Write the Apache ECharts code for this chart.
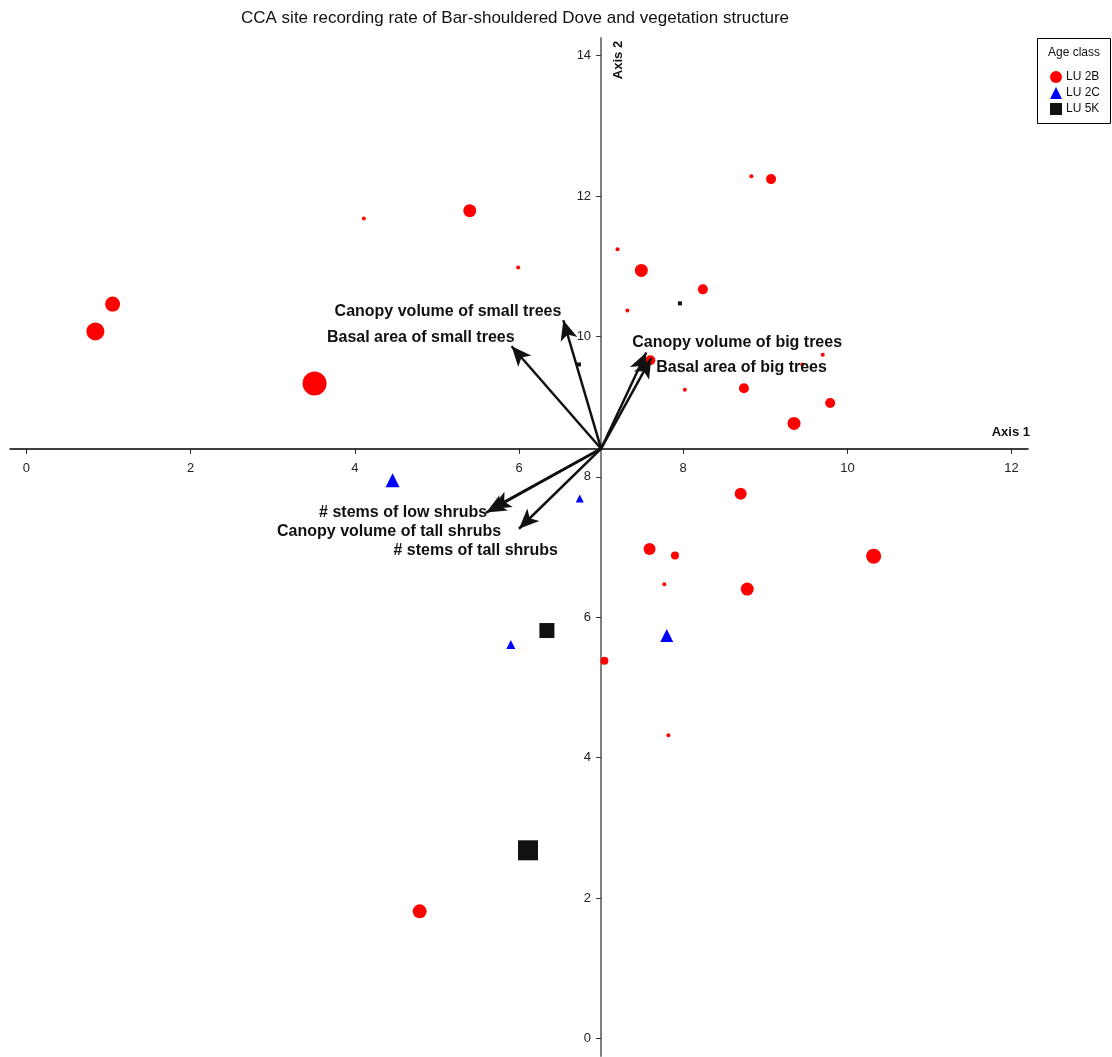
<!DOCTYPE html>
<html>
<head>
<meta charset="utf-8">
<title>CCA site recording rate of Bar-shouldered Dove and vegetation structure</title>
<script src="https://cdn.jsdelivr.net/npm/echarts@6/dist/echarts.min.js"></script>
<style>
  html, body { margin: 0; padding: 0; background: #ffffff; }
  #chart { width: 1112px; height: 1057px; }
</style>
</head>
<body>
<div id="chart"></div>
<script>
// Axis ticks
const xTicks = [0, 2, 4, 6, 8, 10, 12];
const yTicks = [0, 2, 4, 6, 8, 10, 12, 14];

// Site scores (Axis 1, Axis 2) and recording rate per site, by age class
const lu2bX = [0.84, 1.05, 3.51, 4.11, 5.40, 5.99, 7.20, 7.32, 7.49, 8.83, 9.07, 8.24, 7.60, 8.02,
               8.74, 9.45, 9.70, 9.79, 9.35, 8.70, 7.59, 7.90, 10.32, 7.77, 8.78, 7.04, 7.82, 4.79];
const lu2bY = [10.07, 10.46, 9.33, 11.68, 11.79, 10.98, 11.24, 10.37, 10.94, 12.28, 12.24, 10.67, 9.66, 9.24,
               9.26, 9.60, 9.74, 9.05, 8.76, 7.76, 6.97, 6.88, 6.87, 6.47, 6.40, 5.38, 4.32, 1.81];
const lu2bRate = [7, 5.5, 10, 0, 4.5, 0, 0, 0, 4.5, 0, 3, 3, 3, 0,
                  3, 0, 0, 3, 4.5, 4, 4, 2, 5.5, 0, 4.5, 2, 0, 5];

const lu2cX = [4.46, 6.74, 5.90, 7.80];
const lu2cY = [7.95, 7.69, 5.61, 5.74];
const lu2cRate = [5, 2, 2.5, 4.5];

const lu5kX = [6.73, 7.96, 6.34, 6.11];
const lu5kY = [9.60, 10.47, 5.81, 2.68];
const lu5kRate = [0, 0, 5.5, 8];

// Vegetation structure vectors, drawn from the common origin
const vectorOrigin = [7.0, 8.4];
const vectorNames = [
  'Canopy volume of small trees',
  'Basal area of small trees',
  'Canopy volume of big trees',
  'Basal area of big trees',
  '# stems of low shrubs',
  'Canopy volume of tall shrubs',
  '# stems of tall shrubs'
];
const vectorX = [6.54, 5.91, 7.55, 7.61, 5.60, 5.66, 6.00];
const vectorY = [10.23, 9.86, 9.77, 9.69, 7.49, 7.54, 7.26];

// Label placement around each arrow tip
const vectorLabelLayout = [
  { position: 'left',  offset: [-2, -9] },
  { position: 'left',  offset: [3, -9] },
  { position: 'right', offset: [-14, -10] },
  { position: 'right', offset: [5, 9] },
  { position: 'left',  offset: [1, 0] },
  { position: 'left',  offset: [10, 23] },
  { position: 'left',  offset: [39, 22] }
];

const FONT = '"Liberation Sans", Arial, Helvetica, sans-serif';

function zip(xs, ys, rs) {
  return xs.map((x, i) => [x, ys[i], rs[i]]);
}
// marker diameter grows with the recording rate
function rateToSize(v) {
  return 4 + 2 * v[2];
}

const chart = echarts.init(document.getElementById('chart'), null, { renderer: 'canvas' });

const GRID = { left: 10, top: 38, width: 1018, height: 1018 };
const X_MIN = -0.2, X_MAX = 12.2, Y_MIN = -0.25, Y_MAX = 14.25;
// place each axis line where it crosses the other axis at the vector origin
const xAxisOffset = -GRID.height * (vectorOrigin[1] - Y_MIN) / (Y_MAX - Y_MIN);
const yAxisOffset = -GRID.width * (vectorOrigin[0] - X_MIN) / (X_MAX - X_MIN);

const option = {
  animation: false,
  backgroundColor: '#ffffff',
  textStyle: { fontFamily: FONT },
  title: {
    text: 'CCA site recording rate of Bar-shouldered Dove and vegetation structure',
    left: 241,
    top: 10,
    padding: 0,
    textStyle: { fontFamily: FONT, fontSize: 17, fontWeight: 'normal', color: '#111111' }
  },
  grid: Object.assign({ outerBoundsMode: 'none', containLabel: false }, GRID),
  xAxis: {
    type: 'value',
    min: X_MIN,
    max: X_MAX,
    position: 'bottom',
    offset: xAxisOffset,
    axisLine: { onZero: false, lineStyle: { color: '#000000', width: 1.5 } },
    axisTick: { show: true, customValues: xTicks, length: 5, lineStyle: { color: '#222222', width: 1 } },
    axisLabel: { customValues: xTicks, margin: 13, fontSize: 13, color: '#222222', fontFamily: FONT },
    splitLine: { show: false }
  },
  yAxis: {
    type: 'value',
    min: Y_MIN,
    max: Y_MAX,
    position: 'left',
    offset: yAxisOffset,
    axisLine: { onZero: false, lineStyle: { color: '#808080', width: 2 } },
    axisTick: { show: true, customValues: yTicks, length: 5, lineStyle: { color: '#333333', width: 1 } },
    axisLabel: { customValues: yTicks, margin: 10, fontSize: 13, color: '#222222', fontFamily: FONT },
    splitLine: { show: false }
  },
  legend: {
    data: ['LU 2B', 'LU 2C', 'LU 5K'],
    orient: 'vertical',
    left: 1050,
    top: 71,
    padding: 0,
    itemGap: 4,
    itemWidth: 12,
    itemHeight: 12,
    itemStyle: { borderWidth: 0 },
    textStyle: { fontFamily: FONT, fontSize: 12, color: '#111111', padding: [0, 0, 0, -1] },
    selectedMode: false
  },
  graphic: [
    {
      type: 'rect',
      shape: { x: 1037.5, y: 38.5, width: 73, height: 85 },
      style: { fill: '#ffffff', stroke: '#000000', lineWidth: 1 },
      z: 0
    },
    {
      type: 'text',
      x: 1074, y: 53,
      style: { text: 'Age class', fontFamily: FONT, fontSize: 12, fill: '#111111', align: 'center', verticalAlign: 'middle' },
      z: 10
    },
    {
      type: 'text',
      x: 1030, y: 432,
      style: { text: 'Axis 1', fontFamily: FONT, fontSize: 13, fontWeight: 'bold', fill: '#111111', align: 'right', verticalAlign: 'middle' },
      z: 10
    },
    {
      type: 'text',
      x: 618, y: 60,
      rotation: Math.PI / 2,
      style: { text: 'Axis 2', fontFamily: FONT, fontSize: 13, fontWeight: 'bold', fill: '#111111', align: 'center', verticalAlign: 'middle' },
      z: 10
    }
  ],
  series: [
    {
      name: 'LU 2B',
      type: 'scatter',
      symbol: 'circle',
      symbolSize: rateToSize,
      itemStyle: { color: '#ff0000', opacity: 1 },
      data: zip(lu2bX, lu2bY, lu2bRate),
      z: 3
    },
    {
      name: 'LU 2C',
      type: 'scatter',
      symbol: 'triangle',
      symbolSize: rateToSize,
      itemStyle: { color: '#0000ff', opacity: 1 },
      data: zip(lu2cX, lu2cY, lu2cRate),
      z: 3
    },
    {
      name: 'LU 5K',
      type: 'scatter',
      symbol: 'rect',
      symbolSize: rateToSize,
      itemStyle: { color: '#111111', opacity: 1 },
      data: zip(lu5kX, lu5kY, lu5kRate),
      z: 3
    },
    {
      name: 'Vegetation structure',
      type: 'scatter',
      symbolSize: 0,
      silent: true,
      z: 4,
      itemStyle: { color: '#111111', opacity: 1 },
      data: vectorNames.map((name, i) => ({
        name: name,
        value: [vectorX[i], vectorY[i]],
        label: {
          show: true,
          formatter: '{b}',
          position: vectorLabelLayout[i].position,
          offset: vectorLabelLayout[i].offset,
          distance: 0,
          fontFamily: FONT,
          fontSize: 16,
          fontWeight: 'bold',
          color: '#111111',
          opacity: 1
        }
      })),
      markLine: {
        silent: true,
        animation: false,
        symbol: ['none', 'arrow'],
        lineStyle: { color: '#111111', width: 2.5, type: 'solid', opacity: 1 },
        label: { show: false },
        emphasis: { disabled: true },
        data: vectorNames.map((name, i) => [
          { coord: vectorOrigin, symbol: 'none' },
          { coord: [vectorX[i], vectorY[i]], symbol: 'arrow', symbolSize: [13, 20] }
        ])
      }
    }
  ]
};

chart.setOption(option);
</script>
</body>
</html>
